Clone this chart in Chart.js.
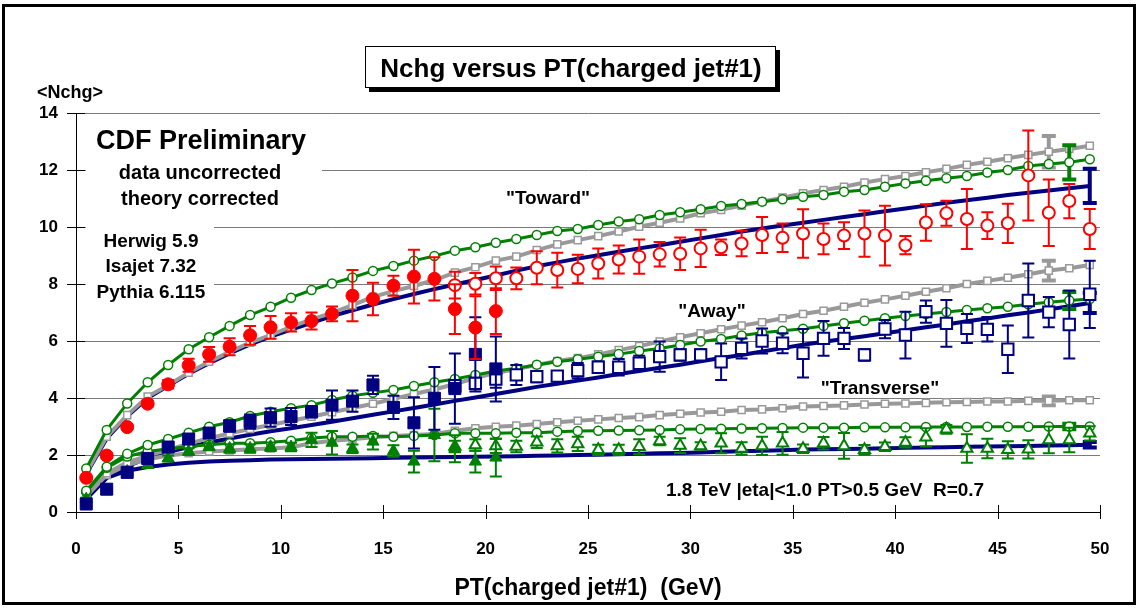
<!DOCTYPE html>
<html>
<head>
<meta charset="utf-8">
<title>Nchg versus PT(charged jet#1)</title>
<script src="https://cdn.jsdelivr.net/npm/chart.js@4.4.1/dist/chart.umd.min.js"></script>
<style>
  html, body { margin: 0; padding: 0; background: #fff; }
  canvas { display: block; }
</style>
</head>
<body>
<canvas id="myChart" width="1138" height="608"></canvas>
<script>
// PT(charged jet#1) bin centres
const pt = [0.5, 1.5, 2.5, 3.5, 4.5, 5.5, 6.5, 7.5, 8.5, 9.5,
  10.5, 11.5, 12.5, 13.5, 14.5, 15.5, 16.5, 17.5, 18.5, 19.5,
  20.5, 21.5, 22.5, 23.5, 24.5, 25.5, 26.5, 27.5, 28.5, 29.5,
  30.5, 31.5, 32.5, 33.5, 34.5, 35.5, 36.5, 37.5, 38.5, 39.5,
  40.5, 41.5, 42.5, 43.5, 44.5, 45.5, 46.5, 47.5, 48.5, 49.5];
const ptLow = pt.slice(0, 21);   // filled markers (0.5 .. 20.5)
const ptHigh = pt.slice(18);     // open markers (18.5 .. 49.5)

const xTicks = [0, 5, 10, 15, 20, 25, 30, 35, 40, 45, 50];
const yTicks = [0, 2, 4, 6, 8, 10, 12, 14];

// data, "Toward"
const towardLow = [1.20, 1.98, 2.98, 3.80, 4.48, 5.15, 5.53, 5.80, 6.20, 6.48,
  6.65, 6.70, 6.95, 7.59, 7.47, 7.94, 8.26, 8.18, 7.12, 6.47, 7.05];
const towardLowErr = [0.05, 0.06, 0.08, 0.10, 0.15, 0.23, 0.26, 0.30, 0.33, 0.40,
  0.32, 0.30, 0.26, 0.90, 0.57, 0.35, 0.94, 0.76, 0.87, 1.10, 0.80];
const towardHigh = [7.96, 8.01, 8.20, 8.20, 8.57, 8.49, 8.53, 8.72, 8.86, 8.96,
  9.04, 9.06, 9.25, 9.29, 9.42, 9.72, 9.62, 9.77, 9.58, 9.70,
  9.77, 9.70, 9.36, 10.16, 10.48, 10.28, 10.05, 10.13, 11.81, 10.50, 10.91, 9.93];
const towardHighErr = [0.47, 0.38, 0.41, 0.38, 0.58, 0.61, 0.50, 0.53, 0.49, 0.60,
  0.43, 0.57, 0.65, 0.27, 0.45, 0.63, 0.50, 0.85, 0.54, 0.47,
  0.81, 1.05, 0.32, 0.64, 0.44, 1.05, 0.47, 0.69, 1.58, 1.17, 0.60, 0.70];

// data, "Away"
const awayLow = [0.28, 0.80, 1.39, 1.88, 2.28, 2.56, 2.77, 3.02, 3.17, 3.31,
  3.35, 3.52, 3.75, 3.89, 4.46, 3.67, 3.13, 3.99, 4.33, 5.53, 5.02];
const awayLowErr = [0.05, 0.05, 0.08, 0.10, 0.12, 0.12, 0.15, 0.20, 0.25, 0.32,
  0.30, 0.20, 0.51, 0.37, 0.32, 0.41, 0.90, 1.10, 1.23, 1.30, 1.14];
const awayHigh = [4.43, 4.51, 4.66, 4.81, 4.75, 4.77, 4.96, 5.08, 5.08, 5.22,
  5.45, 5.51, 5.51, 5.27, 5.74, 6.00, 5.92, 5.57, 6.09, 6.09,
  5.51, 6.42, 6.21, 7.03, 6.62, 6.44, 6.41, 5.71, 7.42, 7.01, 6.58, 7.64];
const awayHighErr = [0.20, 0.20, 0.30, 0.35, 0.20, 0.15, 0.27, 0.20, 0.29, 0.26,
  0.53, 0.20, 0.20, 0.64, 0.35, 0.44, 0.35, 0.85, 0.61, 0.37,
  0.20, 0.32, 0.82, 0.39, 0.82, 0.51, 0.43, 0.83, 1.30, 0.53, 1.19, 1.18];

// data, "Transverse"
const transLow = [0.45, 0.75, 1.42, 1.65, 1.88, 2.12, 2.29, 2.23, 2.23, 2.29,
  2.28, 2.53, 2.43, 2.22, 2.47, 2.14, 1.77, 2.70, 2.22, 1.77, 1.91];
const transLowErr = [0.05, 0.05, 0.08, 0.10, 0.10, 0.12, 0.12, 0.15, 0.15, 0.15,
  0.15, 0.25, 0.41, 0.15, 0.28, 0.20, 0.38, 0.92, 0.47, 0.38, 0.66];
const transHigh = [2.30, 2.35, 2.32, 2.30, 2.45, 2.32, 2.39, 2.18, 2.18, 2.29,
  2.49, 2.33, 2.32, 2.41, 2.23, 2.32, 2.41, 2.22, 2.41, 2.32,
  2.18, 2.29, 2.44, 2.62, 2.90, 2.23, 2.23, 2.18, 2.20, 2.53, 2.53, 2.76];
const transHighErr = [0.20, 0.20, 0.25, 0.20, 0.20, 0.23, 0.25, 0.18, 0.18, 0.26,
  0.15, 0.26, 0.13, 0.35, 0.22, 0.32, 0.40, 0.15, 0.22, 0.45,
  0.17, 0.15, 0.18, 0.32, 0.15, 0.50, 0.34, 0.30, 0.32, 0.47, 0.43, 0.25];

// theory (corrected)
const herwigToward = [1.37, 2.64, 3.40, 4.05, 4.45, 4.89, 5.27, 5.62, 5.94, 6.21,
  6.50, 6.76, 6.99, 7.26, 7.55, 7.75, 7.93, 8.14, 8.40, 8.59,
  8.82, 8.96, 9.19, 9.39, 9.54, 9.68, 9.84, 10.01, 10.15, 10.30,
  10.48, 10.60, 10.75, 10.89, 11.03, 11.18, 11.30, 11.41, 11.56, 11.68,
  11.79, 11.92, 12.04, 12.18, 12.29, 12.41, 12.53, 12.64, 12.74, 12.85];
const isajetToward = [1.53, 2.88, 3.81, 4.55, 5.16, 5.71, 6.13, 6.53, 6.91, 7.20,
  7.52, 7.79, 8.02, 8.23, 8.46, 8.63, 8.82, 8.98, 9.17, 9.29,
  9.45, 9.58, 9.72, 9.86, 9.93, 10.07, 10.19, 10.27, 10.42, 10.52,
  10.62, 10.74, 10.81, 10.89, 10.97, 11.06, 11.12, 11.24, 11.30, 11.41,
  11.53, 11.62, 11.71, 11.79, 11.91, 12.00, 12.14, 12.21, 12.27, 12.38];
const pythiaToward = [1.33, 2.58, 3.36, 4.00, 4.43, 4.85, 5.22, 5.56, 5.88, 6.15,
  6.40, 6.64, 6.87, 7.08, 7.28, 7.47, 7.65, 7.82, 7.98, 8.14,
  8.30, 8.47, 8.62, 8.76, 8.89, 9.01, 9.13, 9.25, 9.36, 9.48,
  9.60, 9.72, 9.84, 9.95, 10.05, 10.15, 10.25, 10.35, 10.45, 10.55,
  10.65, 10.75, 10.85, 10.94, 11.03, 11.12, 11.20, 11.28, 11.36, 11.44];

const herwigAway = [0.57, 1.36, 1.74, 1.98, 2.18, 2.40, 2.59, 2.76, 2.91, 3.05,
  3.20, 3.34, 3.50, 3.65, 3.80, 3.97, 4.14, 4.30, 4.49, 4.70,
  4.88, 5.02, 5.16, 5.30, 5.40, 5.53, 5.68, 5.82, 5.98, 6.13,
  6.27, 6.41, 6.54, 6.66, 6.80, 6.95, 7.06, 7.20, 7.34, 7.46,
  7.59, 7.73, 7.85, 8.00, 8.11, 8.22, 8.34, 8.47, 8.55, 8.67];
const isajetAway = [0.75, 1.59, 2.04, 2.35, 2.56, 2.78, 2.99, 3.15, 3.37, 3.52,
  3.64, 3.75, 3.93, 4.08, 4.18, 4.28, 4.42, 4.55, 4.67, 4.81,
  4.95, 5.04, 5.17, 5.27, 5.36, 5.45, 5.54, 5.65, 5.74, 5.86,
  5.98, 6.07, 6.19, 6.29, 6.36, 6.43, 6.53, 6.62, 6.71, 6.80,
  6.88, 6.95, 7.02, 7.09, 7.15, 7.20, 7.29, 7.36, 7.42, 7.47];
const pythiaAway = [0.50, 1.20, 1.60, 1.90, 2.10, 2.28, 2.44, 2.58, 2.71, 2.83,
  2.94, 3.05, 3.17, 3.29, 3.41, 3.53, 3.65, 3.77, 3.90, 4.02,
  4.14, 4.26, 4.39, 4.50, 4.61, 4.72, 4.84, 4.95, 5.06, 5.17,
  5.29, 5.40, 5.51, 5.63, 5.75, 5.87, 5.97, 6.07, 6.17, 6.27,
  6.38, 6.48, 6.58, 6.69, 6.79, 6.90, 7.00, 7.11, 7.22, 7.33];

const herwigTrans = [0.55, 1.30, 1.65, 1.85, 1.98, 2.06, 2.12, 2.16, 2.20, 2.23,
  2.27, 2.41, 2.50, 2.55, 2.62, 2.67, 2.70, 2.74, 2.85, 2.94,
  2.99, 3.03, 3.09, 3.15, 3.20, 3.25, 3.30, 3.33, 3.40, 3.45,
  3.49, 3.52, 3.58, 3.60, 3.64, 3.70, 3.72, 3.74, 3.77, 3.80,
  3.81, 3.83, 3.85, 3.86, 3.88, 3.88, 3.90, 3.90, 3.92, 3.92];
const isajetTrans = [0.70, 1.55, 1.95, 2.12, 2.22, 2.30, 2.36, 2.41, 2.41, 2.45,
  2.50, 2.60, 2.64, 2.64, 2.67, 2.64, 2.67, 2.70, 2.76, 2.76,
  2.76, 2.78, 2.78, 2.82, 2.84, 2.85, 2.86, 2.87, 2.88, 2.90,
  2.91, 2.92, 2.93, 2.94, 2.95, 2.96, 2.96, 2.96, 2.97, 2.97,
  2.97, 2.98, 2.98, 2.98, 2.99, 2.99, 2.99, 3.00, 3.00, 3.00];
const pythiaTrans = [0.45, 1.20, 1.45, 1.58, 1.67, 1.73, 1.77, 1.80, 1.82, 1.84,
  1.85, 1.86, 1.87, 1.88, 1.89, 1.90, 1.91, 1.92, 1.93, 1.94,
  1.95, 1.96, 1.97, 1.98, 2.00, 2.01, 2.03, 2.04, 2.06, 2.07,
  2.09, 2.11, 2.13, 2.15, 2.17, 2.19, 2.20, 2.21, 2.22, 2.24,
  2.25, 2.26, 2.27, 2.29, 2.30, 2.31, 2.32, 2.33, 2.34, 2.36];

// theory uncertainty shown on one point per curve: [toward, away, transverse]
const herwigErrAt = 47.5, herwigEndErr = [0.55, 0.35, 0.15];
const isajetErrAt = 48.5, isajetEndErr = [0.60, 0.30, 0.10];
const pythiaErrAt = 49.5, pythiaEndErr = [0.60, 0.35, 0.10];

const RED = "#ff0000", NAVY = "#000080", GREEN = "#008000", GRAY = "#999999";
const FONT = '"Liberation Sans", Arial, Helvetica, sans-serif';

function pairs(xs, ys) {
  return xs.map((x, i) => ({ x: x, y: ys[i] }));
}
function endErr(at, val) {
  return pt.map(x => (x === at ? val : null));
}

function dataSet(xs, ys, errs, color, style, filled, radius) {
  return {
    data: pairs(xs, ys),
    errors: errs,
    showLine: false,
    pointStyle: style,
    pointRadius: radius,
    backgroundColor: filled ? color : "#ffffff",
    borderColor: color,
    pointBorderWidth: filled ? 1 : 2,
    errorWidth: 2,
    capWidth: 6,
    order: 1,
  };
}
function theorySet(ys, errs, color, style, width, radius, order) {
  return {
    data: pairs(pt, ys),
    errors: errs,
    showLine: true,
    tension: 0,
    borderColor: color,
    borderWidth: width,
    pointStyle: style,
    pointRadius: radius,
    backgroundColor: "#ffffff",
    pointBorderWidth: 1.5,
    errorWidth: 4,
    capWidth: 7,
    order: order,
  };
}

// error bars, drawn under each dataset's markers
const errorBars = {
  id: "errorBars",
  beforeDatasetDraw(chart, args) {
    const ds = chart.data.datasets[args.index];
    if (!ds.errors) return;
    const ctx = chart.ctx;
    const xs = chart.scales.x, ys = chart.scales.y;
    ctx.save();
    ctx.strokeStyle = ds.borderColor;
    ctx.lineWidth = ds.errorWidth;
    const cap = ds.capWidth;
    ds.data.forEach((p, i) => {
      const e = ds.errors[i];
      if (p.y == null || e == null) return;
      const x = xs.getPixelForValue(p.x);
      const y1 = ys.getPixelForValue(p.y - e);
      const y2 = ys.getPixelForValue(p.y + e);
      ctx.beginPath();
      ctx.moveTo(x, y1); ctx.lineTo(x, y2);
      ctx.moveTo(x - cap, y1); ctx.lineTo(x + cap, y1);
      ctx.moveTo(x - cap, y2); ctx.lineTo(x + cap, y2);
      ctx.stroke();
    });
    ctx.restore();
  },
};

// frame, title box, axis ticks that cross the axes, text boxes
const decorations = {
  id: "decorations",
  beforeDraw(chart) {
    const ctx = chart.ctx;
    ctx.save();
    ctx.fillStyle = "#ffffff";
    ctx.fillRect(0, 0, chart.width, chart.height);
    ctx.strokeStyle = "#000";
    ctx.lineWidth = 3;
    ctx.strokeRect(3.5, 5.5, 1131, 598);
    // title box with shadow
    ctx.fillStyle = "#000";
    ctx.fillRect(369, 50, 411, 42);
    ctx.fillStyle = "#fff";
    ctx.fillRect(365, 46, 411, 42);
    ctx.lineWidth = 1;
    ctx.strokeRect(365.5, 46.5, 410, 41);
    ctx.fillStyle = "#000";
    ctx.textAlign = "center";
    ctx.textBaseline = "alphabetic";
    ctx.font = "bold 26px " + FONT;
    ctx.fillText("Nchg versus PT(charged jet#1)", 571, 77);
    ctx.textAlign = "left";
    ctx.font = "bold 18px " + FONT;
    ctx.fillText("<Nchg>", 37, 98);
    ctx.restore();
  },
  beforeDatasetsDraw(chart) {
    const ctx = chart.ctx;
    const xs = chart.scales.x, ys = chart.scales.y;
    const a = chart.chartArea;
    ctx.save();
    // ticks crossing the axes
    ctx.strokeStyle = "#000";
    ctx.lineWidth = 1;
    ctx.beginPath();
    yTicks.forEach(v => {
      const y = Math.round(ys.getPixelForValue(v)) + 0.5;
      ctx.moveTo(a.left - 9, y); ctx.lineTo(a.left + 9, y);
    });
    xTicks.forEach(v => {
      const x = Math.round(xs.getPixelForValue(v)) + 0.5;
      ctx.moveTo(x, a.bottom - 7); ctx.lineTo(x, a.bottom + 7);
    });
    ctx.stroke();
    // white boxes that hide the grid behind the notes
    ctx.fillStyle = "#ffffff";
    ctx.fillRect(86, 120, 236, 92);
    ctx.fillRect(86, 220, 128, 84);
    ctx.fillStyle = "#000";
    ctx.textAlign = "center";
    ctx.font = "bold 27px " + FONT;
    ctx.fillText("CDF Preliminary", 201, 149);
    ctx.font = "bold 20px " + FONT;
    ctx.fillText("data uncorrected", 200, 179);
    ctx.fillText("theory corrected", 200, 205);
    ctx.font = "bold 19px " + FONT;
    ctx.fillText("Herwig 5.9", 151, 247);
    ctx.fillText("Isajet 7.32", 151, 272);
    ctx.fillText("Pythia 6.115", 151, 298);
    ctx.restore();
  },
  afterDatasetsDraw(chart) {
    const ctx = chart.ctx;
    ctx.save();
    ctx.fillStyle = "#000";
    ctx.textAlign = "center";
    ctx.font = "bold 19px " + FONT;
    ctx.fillText('"Toward"', 548, 204);
    ctx.fillText('"Away"', 712, 317);
    ctx.fillText('"Transverse"', 880, 394);
    ctx.textAlign = "left";
    ctx.font = "bold 19px " + FONT;
    ctx.fillText("1.8 TeV |eta|<1.0 PT>0.5 GeV  R=0.7", 666, 496);
    ctx.restore();
  },
};

const ctx = document.getElementById("myChart").getContext("2d");

const myChart = new Chart(ctx, {
  type: "line",
  data: {
    datasets: [
      dataSet(ptLow, towardLow, towardLowErr, RED, "circle", true, 6.5),
      dataSet(ptHigh, towardHigh, towardHighErr, RED, "circle", false, 6),
      dataSet(ptLow, awayLow, awayLowErr, NAVY, "rect", true, 8.5),
      dataSet(ptHigh, awayHigh, awayHighErr, NAVY, "rect", false, 8),
      dataSet(ptLow, transLow, transLowErr, GREEN, "triangle", true, 7),
      dataSet(ptHigh, transHigh, transHighErr, GREEN, "triangle", false, 6.5),

      theorySet(isajetToward, endErr(isajetErrAt, isajetEndErr[0]), GREEN, "circle", 3, 4.5, 2),
      theorySet(isajetAway, endErr(isajetErrAt, isajetEndErr[1]), GREEN, "circle", 3, 4.5, 2),
      theorySet(isajetTrans, endErr(isajetErrAt, isajetEndErr[2]), GREEN, "circle", 3, 4.5, 2),
      theorySet(herwigToward, endErr(herwigErrAt, herwigEndErr[0]), GRAY, "rect", 4, 5, 3),
      theorySet(herwigAway, endErr(herwigErrAt, herwigEndErr[1]), GRAY, "rect", 4, 5, 3),
      theorySet(herwigTrans, endErr(herwigErrAt, herwigEndErr[2]), GRAY, "rect", 4, 5, 3),
      theorySet(pythiaToward, endErr(pythiaErrAt, pythiaEndErr[0]), NAVY, "circle", 4, 0, 4),
      theorySet(pythiaAway, endErr(pythiaErrAt, pythiaEndErr[1]), NAVY, "circle", 4, 0, 4),
      theorySet(pythiaTrans, endErr(pythiaErrAt, pythiaEndErr[2]), NAVY, "circle", 4, 0, 4),
    ],
  },
  options: {
    responsive: false,
    animation: false,
    events: [],
    layout: { padding: { left: 0, top: 113, right: 38, bottom: 0 } },
    plugins: {
      legend: { display: false },
      tooltip: { enabled: false },
    },
    scales: {
      x: {
        type: "linear",
        min: 0,
        max: 50,
        afterBuildTicks: s => { s.ticks = xTicks.map(v => ({ value: v })); },
        afterFit: s => { s.height = 96; },
        grid: { drawOnChartArea: false, drawTicks: false },
        border: { display: true, color: "#000", width: 1 },
        ticks: {
          color: "#000",
          padding: 27,
          maxRotation: 0,
          font: { family: FONT, size: 17, weight: "bold" },
        },
        title: {
          display: true,
          text: "PT(charged jet#1)  (GeV)",
          color: "#000",
          padding: { top: 0, bottom: 6 },
          font: { family: FONT, size: 23, weight: "bold" },
        },
      },
      y: {
        min: 0,
        max: 14,
        afterBuildTicks: s => { s.ticks = yTicks.map(v => ({ value: v })); },
        afterFit: s => { s.width = 76; },
        grid: {
          drawTicks: false,
          color: c => (c.tick && c.tick.value === 0 ? "rgba(0,0,0,0)" : "#7a7a7a"),
        },
        border: { display: true, color: "#000", width: 1 },
        ticks: {
          color: "#000",
          padding: 18,
          font: { family: FONT, size: 17, weight: "bold" },
        },
      },
    },
  },
  plugins: [errorBars, decorations],
});
</script>
</body>
</html>
